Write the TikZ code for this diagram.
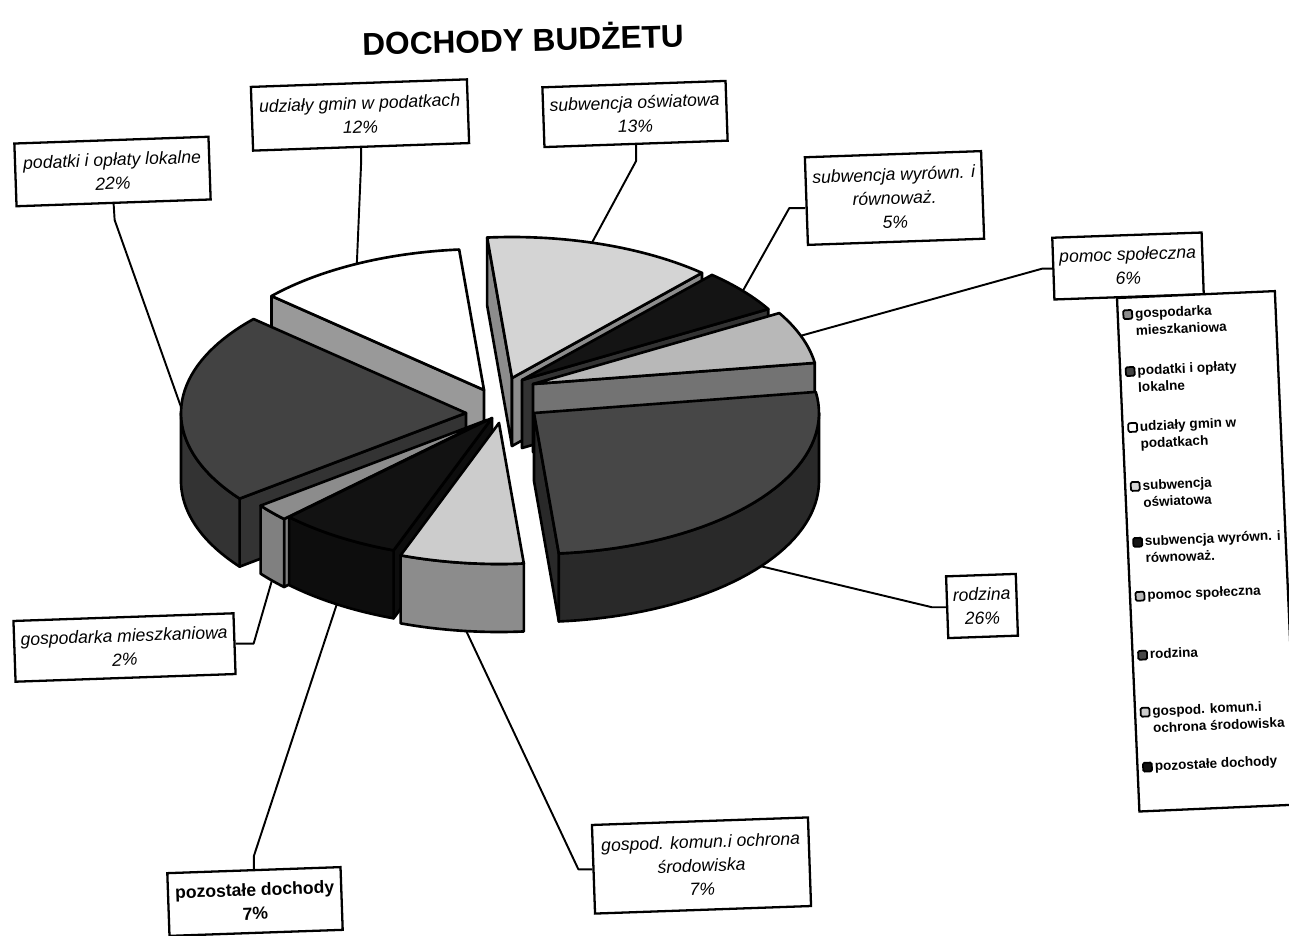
\documentclass[tikz,border=0pt]{standalone}
\usepackage{fontspec}
\setmainfont{Liberation Sans}
\begin{document}
\def\RX{285}\def\RY{141}\def\TH{68}\def\PX{0.5669pt}
\newcommand\sTop[5]{\filldraw[pie,fill=#5] (#1,#2) -- plot[domain=#3:#4,samples=40] ({#1+\RX*cos(\x)},{#2-\RY*sin(\x)}) -- cycle;}
\newcommand\sOut[5]{\filldraw[pie,fill=#5] plot[domain=#3:#4,samples=40] ({#1+\RX*cos(\x)},{#2-\RY*sin(\x)}) -- plot[domain=#4:#3,samples=40] ({#1+\RX*cos(\x)},{#2-\RY*sin(\x)+\TH}) -- cycle;}
\newcommand\sRad[4]{\filldraw[pie,fill=#4] (#1,#2) -- ({#1+\RX*cos(#3)},{#2-\RY*sin(#3)}) -- ({#1+\RX*cos(#3)},{#2-\RY*sin(#3)+\TH}) -- (#1,{#2+\TH}) -- cycle;}
\begin{tikzpicture}[x=0.02cm,y=-0.02cm,
  pie/.style={draw=black,line width=1.5pt,line join=round},
  lab/.style={draw=black,fill=white,line width=1.3pt,inner sep=0pt,align=center,
    font=\fontsize{10}{13.5}\selectfont\itshape,rotate=2},
  lead/.style={draw=black,line width=1.1pt,line join=round},
  legtxt/.style={anchor=base west,inner sep=0pt,font=\fontsize{7.7}{9}\selectfont\bfseries},
  legmark/.style={draw=black,line width=1pt,minimum size=5pt,inner sep=0pt,rounded corners=0.8pt}]
\useasboundingbox (0,0) rectangle (1289,936);
\fill[white] (0,0) rectangle (1289,936);
% ---- pie slices, back to front ----
% subwencja oswiatowa
\sRad{512}{378}{95}{black!45}
\sRad{512}{378}{48.2}{black!45}
\sTop{512}{378}{48.2}{95}{black!17}
% udzialy gmin
\sRad{484}{390}{138.2}{black!40}
\sTop{484}{390}{95}{138.2}{white}
% subwencja wyrown.
\sRad{522}{380}{30.2}{black!80}
\sTop{522}{380}{30.2}{48.2}{black!92}
% pomoc spoleczna
\sRad{533}{384}{8.6}{black!55}
\sTop{533}{384}{8.6}{30.2}{black!28}
% podatki
\sRad{466}{413}{217.4}{black!80}
\sOut{466}{413}{180}{217.4}{black!80}
\sTop{466}{413}{138.2}{217.4}{black!74}
% rodzina
\sRad{534}{413}{-85}{black!84}
\sOut{534}{413}{-85}{0}{black!84}
\sTop{534}{413}{-85}{8.6}{black!72}
% gospodarka mieszkaniowa
\sRad{487}{420}{-135.4}{black!50}
\sOut{487}{420}{-142.6}{-135.4}{black!50}
\sTop{487}{420}{-142.6}{-135.4}{black!45}
% pozostale
\sRad{492}{418}{-110.2}{black!95}
\sOut{492}{418}{-135.4}{-110.2}{black!95}
\sTop{492}{418}{-135.4}{-110.2}{black!93}
% gospod. komun.
\sOut{499}{423}{-110.2}{-85}{black!45}
\sTop{499}{423}{-110.2}{-85}{black!20}
% ---- leader end points ----
\coordinate (e1) at (181,407);
\coordinate (e2) at ({484+\RX*cos(116.5)},{390-\RY*sin(116.5)});
\coordinate (e3) at ({512+\RX*cos(73.7)},{378-\RY*sin(73.7)});
\coordinate (e4) at ({522+\RX*cos(39.2)},{380-\RY*sin(39.2)});
\coordinate (e5) at ({533+\RX*cos(20)},{384-\RY*sin(20)});
\coordinate (e6) at ({534+\RX*cos(-37.2)},{413-\RY*sin(-37.2)+\TH});
\coordinate (e7) at ({487+\RX*cos(-139)},{420-\RY*sin(-139)+\TH});
\coordinate (e8) at ({499+\RX*cos(-96.6)},{423-\RY*sin(-96.6)+\TH});
\coordinate (e9) at ({492+\RX*cos(-123)},{418-\RY*sin(-123)+\TH});
% ---- labels ----
\node[lab,minimum width=195*\PX,minimum height=63*\PX] (L1) at (112.5,171.5) {podatki i opłaty lokalne\\22\%};
\node[lab,minimum width=217*\PX,minimum height=64*\PX] (L2) at (360,115) {udziały gmin w podatkach\\12\%};
\node[lab,minimum width=184*\PX,minimum height=60*\PX] (L3) at (635,114) {subwencja oświatowa\\13\%};
\node[lab,minimum width=177*\PX,minimum height=88*\PX] (L4) at (894.5,198) {subwencja wyrówn. i\\równoważ.\\5\%};
\node[lab,minimum width=150*\PX,minimum height=62*\PX] (L5) at (1128,266) {pomoc społeczna\\6\%};
\node[lab,minimum width=70*\PX,minimum height=62*\PX] (L6) at (982,606) {rodzina\\26\%};
\node[lab,minimum width=221*\PX,minimum height=61*\PX] (L7) at (124.5,647.5) {gospodarka mieszkaniowa\\2\%};
\node[lab,minimum width=217*\PX,minimum height=89*\PX] (L8) at (701.5,865.5) {gospod. komun.i ochrona\\środowiska\\7\%};
\node[lab,minimum width=174*\PX,minimum height=63*\PX,font=\fontsize{10}{13.5}\selectfont\bfseries] (L9) at (255,901.5) {pozostałe dochody\\7\%};
% ---- leaders ----
\draw[lead] (L1.south) -- ++(1,16) -- (e1);
\draw[lead] (L2.south) -- ++(0,14) -- (e2);
\draw[lead] (L3.south) -- ++(0,16) -- (e3);
\draw[lead] ([yshift=-4pt]L4.west) -- ++(-16,0) -- (e4);
\draw[lead] (L5.west) -- ++(-10,0) -- (e5);
\draw[lead] (L6.west) -- ++(-14,0) -- (e6);
\draw[lead] (L7.east) -- ++(18,0) -- (e7);
\draw[lead] (L8.west) -- ++(-14,0) -- (e8);
\draw[lead] (L9.north) -- ++(0,-13) -- (e9);
% ---- title ----
\node[font=\fontsize{18}{20}\selectfont\bfseries,rotate=1.5,inner sep=0pt] (title) at (523,38) {DOCHODY BUDŻETU};
% ---- legend ----
\begin{scope}[shift={(1117,298)},rotate=2.5,transform shape]
\draw[line width=1.3pt,fill=white] (0,0) rectangle (158,514);
\node[legmark,fill=black!45] (m1) at (10,17) {};
\node[legtxt] (t1a) at (17,21) {gospodarka};
\node[legtxt] (t1b) at (17,38) {mieszkaniowa};
\node[legmark,fill=black!74] (m2) at (10,74) {};
\node[legtxt] (t2a) at (17,78) {podatki i opłaty};
\node[legtxt] (t2b) at (17,95) {lokalne};
\node[legmark,fill=white] (m3) at (10,130) {};
\node[legtxt] (t3a) at (17,134) {udziały gmin w};
\node[legtxt] (t3b) at (17,151) {podatkach};
\node[legmark,fill=black!17] (m4) at (10,189) {};
\node[legtxt] (t4a) at (17,193) {subwencja};
\node[legtxt] (t4b) at (17,210) {oświatowa};
\node[legmark,fill=black!92] (m5) at (10,245) {};
\node[legtxt] (t5a) at (17,249) {subwencja wyrówn. i};
\node[legtxt] (t5b) at (17,266) {równoważ.};
\node[legmark,fill=black!28] (m6) at (10,299) {};
\node[legtxt] (t6a) at (17,303) {pomoc społeczna};
\node[legmark,fill=black!72] (m7) at (10,358) {};
\node[legtxt] (t7a) at (17,362) {rodzina};
\node[legmark,fill=black!20] (m8) at (10,415) {};
\node[legtxt] (t8a) at (17,419) {gospod. komun.i};
\node[legtxt] (t8b) at (17,436) {ochrona środowiska};
\node[legmark,fill=black!93] (m9) at (10,470) {};
\node[legtxt] (t9a) at (17,474) {pozostałe dochody};
\end{scope}
\end{tikzpicture}
\end{document}
